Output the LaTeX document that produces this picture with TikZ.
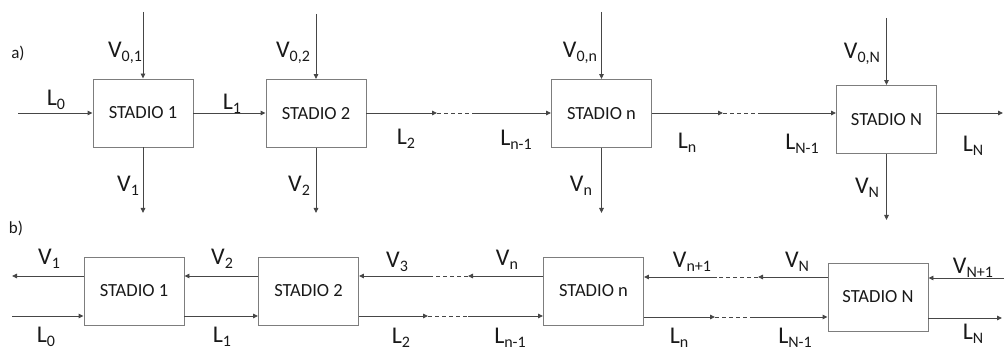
\documentclass[tikz,border=0pt]{standalone}
\usepackage{fontspec}
\setmainfont{Carlito}
\usetikzlibrary{arrows.meta,positioning}
\definecolor{ink}{RGB}{70,70,70}
\definecolor{edge}{RGB}{125,125,125}
\definecolor{txt}{RGB}{25,25,25}
\newcommand{\low}[1]{\raisebox{-4pt}{\fontsize{16}{16}\selectfont #1}}
\tikzset{
  stadio/.style={draw=edge,line width=0.9pt,minimum width=100pt,minimum height=68pt,
    inner sep=0pt,text=txt,font=\fontsize{18.5}{20}\selectfont},
  flow/.style={-{Triangle[length=5pt,width=4.5pt]},ink,line width=0.9pt},
  gap/.style={ink,line width=0.9pt,dash pattern=on 4pt off 3pt},
  lbl/.style={inner sep=0pt,text=txt,font=\fontsize{24}{25}\selectfont},
  tag/.style={inner sep=0pt,text=txt,font=\fontsize{17}{18}\selectfont},
}

\begin{document}
\begin{tikzpicture}[x=1pt,y=-1pt]
  \useasboundingbox (0,0) rectangle (1004,352);
  % a) stages
  \node[tag] (ta) at (18,53) {a)};
  \node[stadio] (s1) at (143,113) {STADIO 1};
  \node[stadio] (s2) at (316,113.5) {STADIO 2};
  \node[stadio] (sn) at (601.5,113.5) {STADIO n};
  \node[stadio] (sN) at (886.5,119.5) {STADIO N};
  % a) free ends
  \coordinate (l0) at (18,113);
  \coordinate (l1) at (437,113);
  \coordinate (l2) at (475,113);
  \coordinate (l3) at (723,113);
  \coordinate (l4) at (762,113);
  \coordinate (l5) at (1003,113);
  \coordinate (u1) at (143,12);
  \coordinate (u2) at (316,14);
  \coordinate (un) at (601.5,12);
  \coordinate (uN) at (886.5,18);
  \coordinate (d1) at (143,213);
  \coordinate (d2) at (316,213);
  \coordinate (dn) at (601.5,213);
  \coordinate (dN) at (886.5,220);
  % a) liquid line
  \draw[flow] (l0) -- (s1.west |- l0);
  \draw[flow] (s1.east |- l0) -- (s2.west |- l0);
  \draw[flow] (s2.east |- l1) -- (l1);
  \draw[gap] (l1) -- (l2);
  \draw[flow] (l2) -- (sn.west |- l2);
  \draw[flow] (sn.east |- l3) -- (l3);
  \draw[gap] (l3) -- (l4);
  \draw[flow] (l4) -- (sN.west |- l4);
  \draw[flow] (sN.east |- l5) -- (l5);
  % a) vapour in / out
  \draw[flow] (u1) -- (s1.north);
  \draw[flow] (u2) -- (s2.north);
  \draw[flow] (un) -- (sn.north);
  \draw[flow] (uN) -- (sN.north);
  \draw[flow] (s1.south) -- (d1);
  \draw[flow] (s2.south) -- (d2);
  \draw[flow] (sn.south) -- (dn);
  \draw[flow] (sN.south) -- (dN);
  % a) labels
  \node[lbl] (al0) at (56,100) {L\low{0}};
  \node[lbl] (al1) at (232,104) {L\low{1}};
  \node[lbl] (al2) at (406,139) {L\low{2}};
  \node[lbl] (aln1) at (516,140) {L\low{n-1}};
  \node[lbl] (aln) at (687,143) {L\low{n}};
  \node[lbl] (alN1) at (802,144) {L\low{N-1}};
  \node[lbl] (alN) at (973,146) {L\low{N}};
  \node[lbl] (av01) at (125,53) {V\low{0,1}};
  \node[lbl] (av02) at (293,53) {V\low{0,2}};
  \node[lbl] (av0n) at (580,53) {V\low{0,n}};
  \node[lbl] (av0N) at (862,54) {V\low{0,N}};
  \node[lbl] (av1) at (128,186) {V\low{1}};
  \node[lbl] (av2) at (299,186) {V\low{2}};
  \node[lbl] (avn) at (581,186) {V\low{n}};
  \node[lbl] (avN) at (867,188) {V\low{N}};

  % b) stages
  \node[tag] (tb) at (16,228) {b)};
  \node[stadio] (b1) at (134,291) {STADIO 1};
  \node[stadio] (b2) at (308.5,291) {STADIO 2};
  \node[stadio] (bn) at (593.5,291) {STADIO n};
  \node[stadio] (bN) at (878,297) {STADIO N};
  % b) free ends
  \coordinate (w0) at (12,276);
  \coordinate (w1) at (432,276);
  \coordinate (w2) at (468,276);
  \coordinate (w3) at (717,277);
  \coordinate (w4) at (758,277);
  \coordinate (w5) at (1004,278);
  \coordinate (e0) at (12,316);
  \coordinate (e1) at (428,316);
  \coordinate (e2) at (468,316);
  \coordinate (e3) at (715,317);
  \coordinate (e4) at (752,317);
  \coordinate (e5) at (1002,318);
  % b) vapour, right to left
  \draw[flow] (b1.west |- w0) -- (w0);
  \draw[flow] (b2.west |- w0) -- (b1.east |- w0);
  \draw[flow] (bn.west |- w2) -- (w2);
  \draw[gap] (w2) -- (w1);
  \draw[flow] (w1) -- (b2.east |- w1);
  \draw[flow] (bN.west |- w4) -- (w4);
  \draw[gap] (w4) -- (w3);
  \draw[flow] (w3) -- (bn.east |- w3);
  \draw[flow] (w5) -- (bN.east |- w5);
  % b) liquid, left to right
  \draw[flow] (e0) -- (b1.west |- e0);
  \draw[flow] (b1.east |- e0) -- (b2.west |- e0);
  \draw[flow] (b2.east |- e1) -- (e1);
  \draw[gap] (e1) -- (e2);
  \draw[flow] (e2) -- (bn.west |- e2);
  \draw[flow] (bn.east |- e3) -- (e3);
  \draw[gap] (e3) -- (e4);
  \draw[flow] (e4) -- (bN.west |- e4);
  \draw[flow] (bN.east |- e5) -- (e5);
  % b) labels
  \node[lbl] (bv1) at (49,259) {V\low{1}};
  \node[lbl] (bv2) at (222,259) {V\low{2}};
  \node[lbl] (bv3) at (397,262) {V\low{3}};
  \node[lbl] (bvn) at (507,260) {V\low{n}};
  \node[lbl] (bvn1) at (692,262) {V\low{n+1}};
  \node[lbl] (bvN) at (797,262) {V\low{N}};
  \node[lbl] (bvN1) at (973,268) {V\low{N+1}};
  \node[lbl] (bl0) at (46,337) {L\low{0}};
  \node[lbl] (bl1) at (222,337) {L\low{1}};
  \node[lbl] (bl2) at (401,338) {L\low{2}};
  \node[lbl] (bln1) at (510,338) {L\low{n-1}};
  \node[lbl] (bln) at (679,338) {L\low{n}};
  \node[lbl] (blN1) at (795,338) {L\low{N-1}};
  \node[lbl] (blN) at (973,334) {L\low{N}};
\end{tikzpicture}
\end{document}
